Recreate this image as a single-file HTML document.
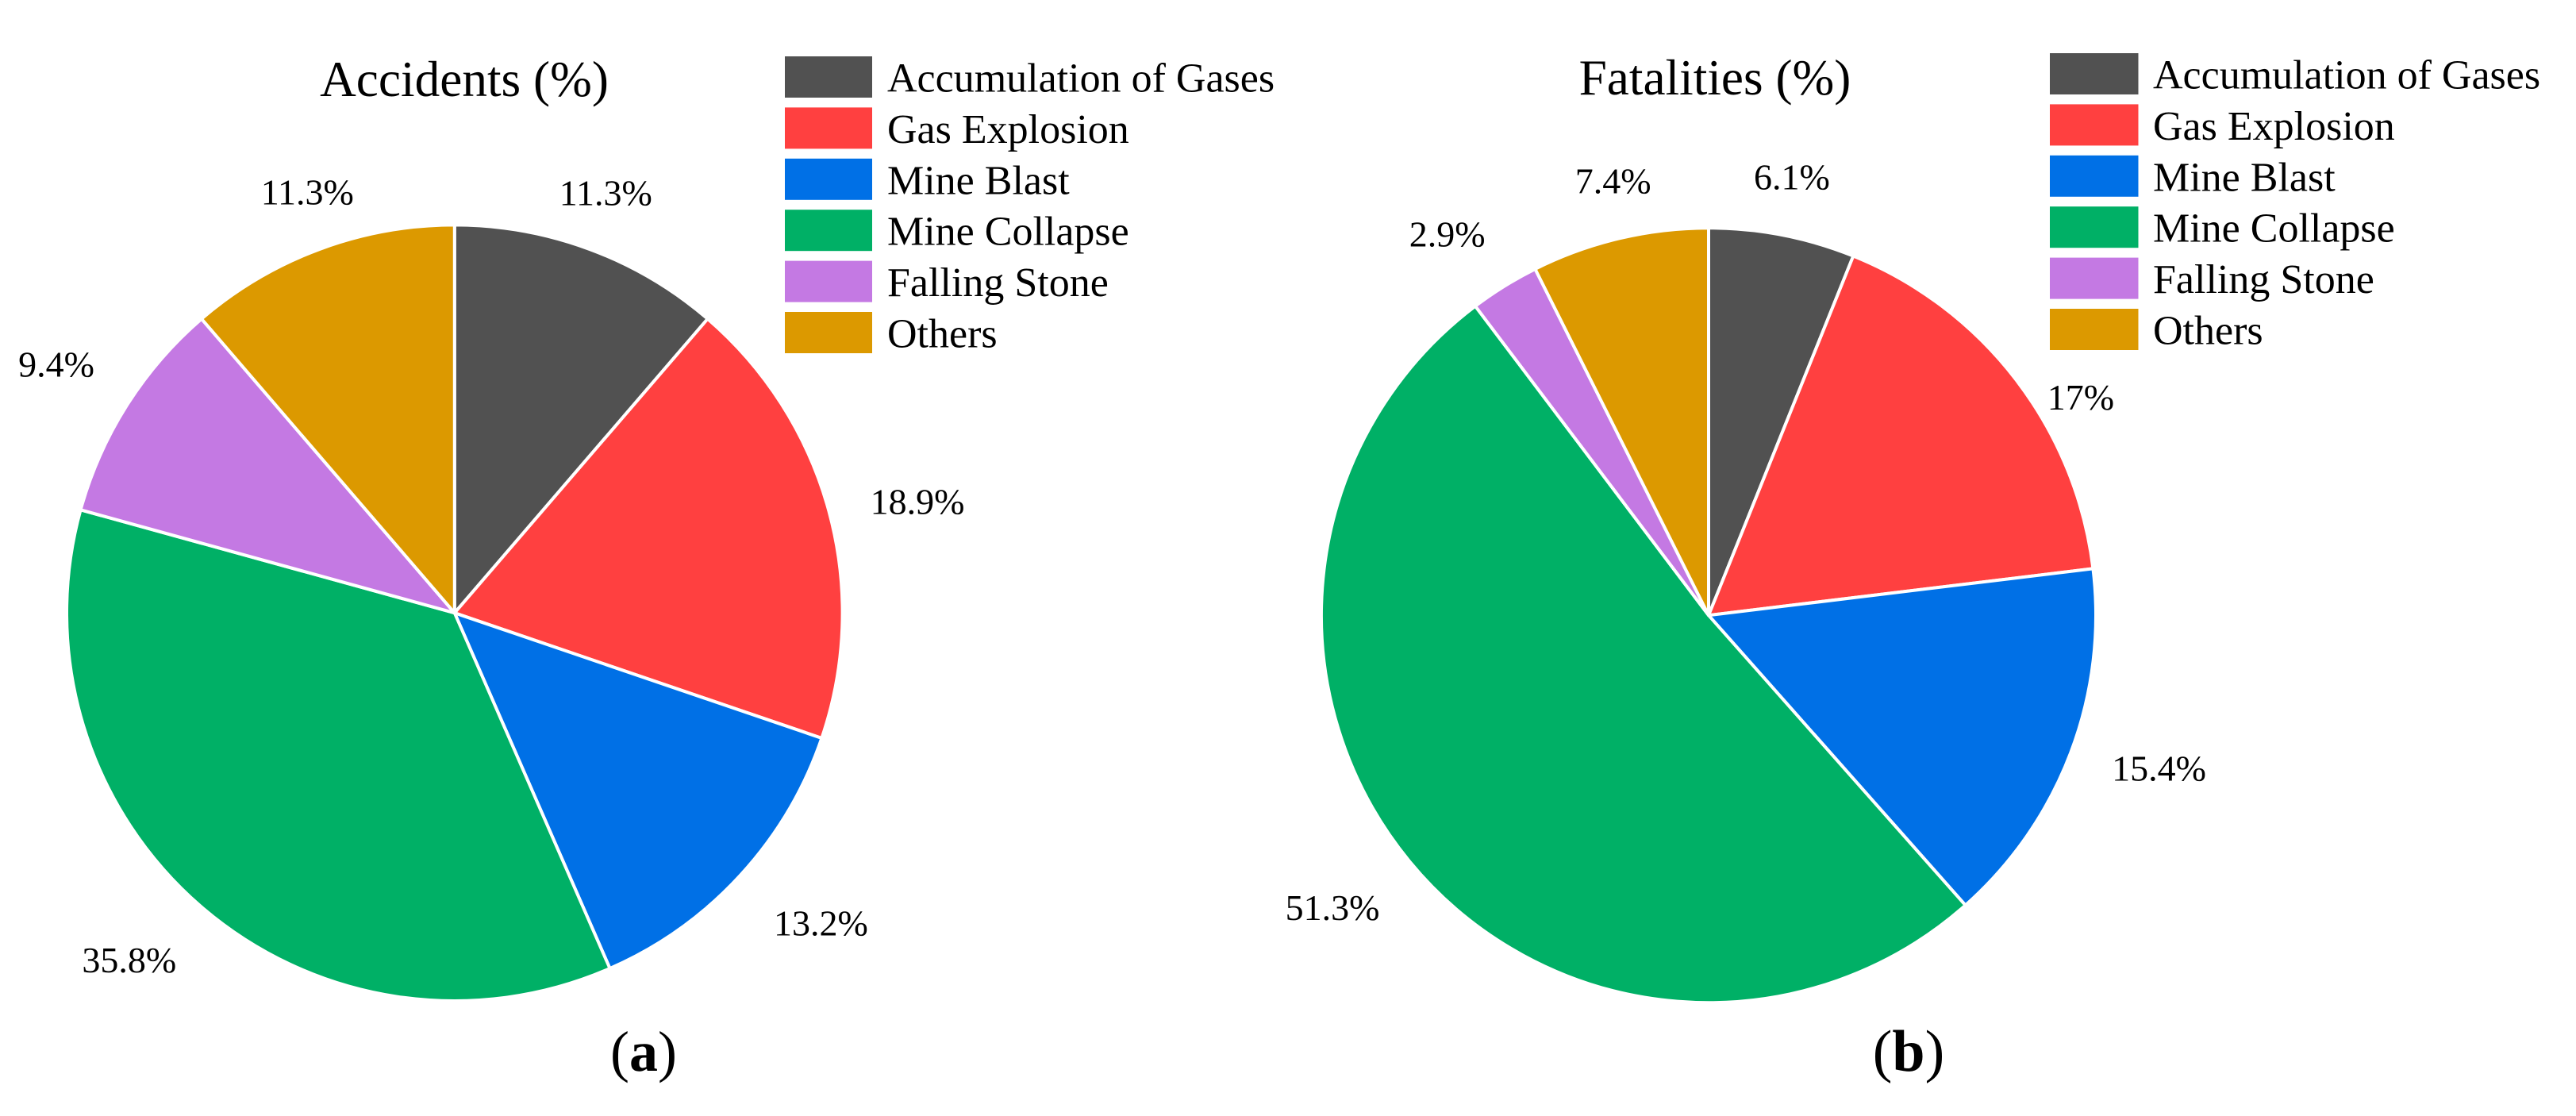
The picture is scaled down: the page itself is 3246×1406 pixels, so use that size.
<!DOCTYPE html>
<html lang="en">
<head>
<meta charset="utf-8">
<title>Accidents and Fatalities by Cause</title>
<style>
  html, body { margin: 0; padding: 0; background: #fff; }
  body { width: 3246px; height: 1406px; overflow: hidden; }
  svg { display: block; }
  text { font-family: "Liberation Serif", serif; fill: #000; }
</style>
</head>
<body>
<svg id="figure" xmlns="http://www.w3.org/2000/svg" width="3246" height="1406" viewBox="0 0 3246 1406">
  <rect x="0" y="0" width="3246" height="1406" fill="#ffffff"/>
  <g id="panel-a">
    <text x="585" y="121" font-size="63.3" text-anchor="middle">Accidents (%)</text>
    <text x="811" y="1349" font-size="72" text-anchor="middle">(<tspan font-weight="bold">a</tspan>)</text>
  </g>
  <g id="panel-b">
    <text x="2161" y="119" font-size="63.3" text-anchor="middle">Fatalities (%)</text>
    <text x="2405" y="1349" font-size="74" text-anchor="middle">(<tspan font-weight="bold">b</tspan>)</text>
  </g>
</svg>
<script>
const categories = ["Accumulation of Gases", "Gas Explosion", "Mine Blast", "Mine Collapse", "Falling Stone", "Others"];
const accidentsValues = [11.3, 18.9, 13.2, 35.8, 9.4, 11.3];
const fatalitiesValues = [6.1, 17, 15.4, 51.3, 2.9, 7.4];
const sliceColors = ["#515151", "#ff4040", "#0070e6", "#00b066", "#c479e3", "#dc9900"];

const SVG_NS = "http://www.w3.org/2000/svg";

function angleAt(cumulative, total) {
  return cumulative / total * 2 * Math.PI;
}

function polar(cx, cy, r, angle) {
  return [cx + r * Math.sin(angle), cy - r * Math.cos(angle)];
}

function drawPie(panelId, prefix, values, layout) {
  const panel = document.getElementById(panelId);
  const total = values.reduce(function (a, b) { return a + b; }, 0);
  let cumulative = 0;

  values.forEach(function (value, i) {
    const start = angleAt(cumulative, total);
    const end = angleAt(cumulative + value, total);
    const mid = (start + end) / 2;
    cumulative += value;

    const p0 = polar(layout.cx, layout.cy, layout.r, start);
    const p1 = polar(layout.cx, layout.cy, layout.r, end);
    const large = end - start > Math.PI ? 1 : 0;

    const slice = document.createElementNS(SVG_NS, "path");
    slice.setAttribute("d", "M" + layout.cx + " " + layout.cy + "L" + p0[0] + " " + p0[1] +
      "A" + layout.r + " " + layout.r + " 0 " + large + " 1 " + p1[0] + " " + p1[1] + "Z");
    slice.setAttribute("fill", sliceColors[i]);
    slice.setAttribute("stroke", "#ffffff");
    slice.setAttribute("stroke-width", "4");
    slice.setAttribute("stroke-linejoin", "round");
    
    
    panel.appendChild(slice);

    const anchor = polar(layout.cx, layout.cy, layout.labelRadius, mid);
    const label = document.createElementNS(SVG_NS, "text");
    label.setAttribute("x", anchor[0] + layout.nudgeX[i]);
    label.setAttribute("y", anchor[1] + layout.nudgeY[i] + 15);
    label.setAttribute("font-size", "46");
    label.setAttribute("text-anchor", "middle");
    
    
    label.textContent = value + "%";
    panel.appendChild(label);
  });

  categories.forEach(function (name, i) {
    const top = layout.legendTop + i * 64.4;

    const swatch = document.createElementNS(SVG_NS, "rect");
    swatch.setAttribute("x", layout.legendX);
    swatch.setAttribute("y", top);
    swatch.setAttribute("width", layout.swatchWidth);
    swatch.setAttribute("height", 52);
    swatch.setAttribute("fill", sliceColors[i]);
    
    
    panel.appendChild(swatch);

    const entry = document.createElementNS(SVG_NS, "text");
    entry.setAttribute("x", layout.legendTextX);
    entry.setAttribute("y", top + 44.5);
    entry.setAttribute("font-size", "52");
    
    
    entry.textContent = name;
    panel.appendChild(entry);
  });
}

drawPie("panel-a", "accidents", accidentsValues, {
  cx: 572.8, cy: 772.2, r: 488.8, labelRadius: 562,
  nudgeX: [-5, 41, 48, -42, -27, 10],
  nudgeY: [-2, 8, 11, 13, -12, -3],
  legendX: 989, legendTop: 71, swatchWidth: 110, legendTextX: 1118
});

drawPie("panel-b", "fatalities", fatalitiesValues, {
  cx: 2153, cy: 775.2, r: 488, labelRadius: 562,
  nudgeX: [-2, 23, 42, -39, -33, 9],
  nudgeY: [0, 68, -6, 13, -2, 0],
  legendX: 2583, legendTop: 67, swatchWidth: 111.5, legendTextX: 2713
});
</script>
</body>
</html>
